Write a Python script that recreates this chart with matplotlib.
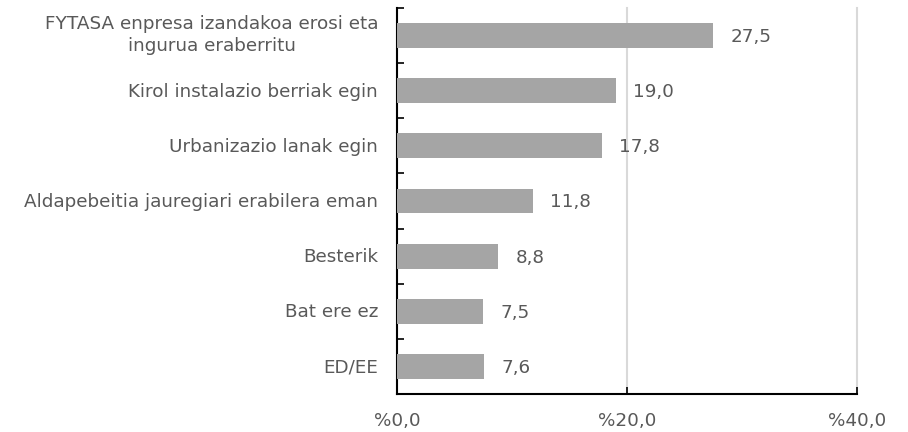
import matplotlib.pyplot as plt
import numpy as np

categories = ["FYTASA enpresa izandakoa erosi eta\ningurua eraberritu",
              "Kirol instalazio berriak egin",
              "Urbanizazio lanak egin",
              "Aldapebeitia jauregiari erabilera eman",
              "Besterik",
              "Bat ere ez",
              "ED/EE"]
values = [27.5, 19.0, 17.8, 11.8, 8.8, 7.5, 7.6]
xticks = [0, 20, 40]
xticklabels = ["%0,0", "%20,0", "%40,0"]

plt.rcParams['font.family'] = ['DejaVu Sans']
text_color = '#595959'
fs = 13.2

fig = plt.figure(figsize=(9.08, 4.32), dpi=100)
ax = fig.add_axes([397/908, 38/432, 460/908, 386/432])

n = len(categories)
y = np.arange(n)
ax.barh(y, values, height=0.45, color='#A5A5A5', zorder=3)
for yi, v in zip(y, values):
    ax.annotate(f"{v:.1f}".replace('.', ','), (v, yi), xytext=(12.5, -1),
                textcoords='offset points', va='center', ha='left',
                fontsize=fs, color=text_color)

ax.set_ylim(n - 0.5, -0.5)
ax.set_xlim(0, 40)
ax.set_yticks(y)
ax.set_yticklabels([])
for yi, c in zip(y, categories):
    dy = 0.5 if '\n' in c else -0.8
    ax.annotate(c, (0, yi), xycoords=('axes fraction', 'data'),
                xytext=(-13.5, dy), textcoords='offset points',
                ha='right', va='center', multialignment='center',
                linespacing=1.25, fontsize=fs, color=text_color)
ax.set_yticks(np.arange(-0.5, n, 1.0), minor=True)
ax.tick_params(axis='y', which='major', length=0)
ax.tick_params(axis='y', which='minor', direction='in', length=5, width=1.2, color='black')

ax.set_xticks(xticks)
ax.set_xticklabels(xticklabels, fontsize=fs, color=text_color)
ax.tick_params(axis='x', direction='in', length=5, width=1.2, color='black', pad=13)

ax.xaxis.grid(True, color='#D9D9D9', linewidth=1.5, zorder=0)
for gl in ax.get_xgridlines():
    gl.set_clip_on(False)
ax.set_axisbelow(True)
for s in ['top', 'right']:
    ax.spines[s].set_visible(False)
for s in ['left', 'bottom']:
    ax.spines[s].set_linewidth(1.5)
    ax.spines[s].set_color('black')

fig.savefig('out.png', dpi=100)
